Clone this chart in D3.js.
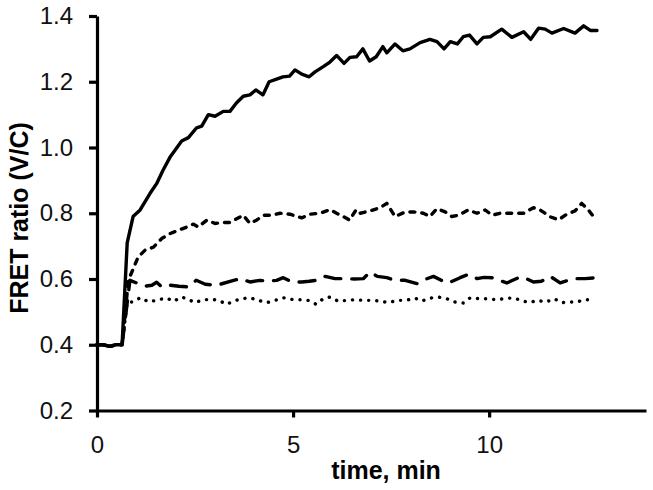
<!DOCTYPE html>
<html>
<head>
<meta charset="utf-8">
<script src="https://cdn.jsdelivr.net/npm/d3@7"></script>
<style>
  body { margin: 0; background: #fff; }
  svg { display: block; font-family: "Liberation Sans", Arial, sans-serif; }
</style>
</head>
<body>
<svg></svg>
<script>
const W = 653, H = 490,
  X_LABEL = "time, min",
  Y_LABEL = "FRET ratio (V/C)",
  xTicks = [0, 5, 10],
  yTicks = [0.2, 0.4, 0.6, 0.8, 1.0, 1.2, 1.4];

// shared baseline before the stimulus, [time, ratio]
const baseline = [[0, 0.40], [0.15, 0.40], [0.33, 0.395], [0.48, 0.40], [0.64, 0.40]];

const solid = [[0.77,0.71],[0.92,0.79],[1.10,0.81],[1.35,0.86],[1.52,0.89],[1.68,0.93],[1.86,0.97],
  [2.16,1.02],[2.33,1.03],[2.54,1.06],[2.67,1.065],[2.84,1.10],[3.01,1.095],[3.22,1.11],[3.39,1.11],
  [3.56,1.136],[3.73,1.156],[3.90,1.16],[4.05,1.175],[4.23,1.16],[4.39,1.20],[4.58,1.208],[4.74,1.215],
  [4.91,1.217],[5.05,1.236],[5.22,1.223],[5.41,1.215],[5.56,1.23],[5.77,1.246],[5.94,1.26],[6.11,1.28],
  [6.30,1.256],[6.45,1.274],[6.62,1.276],[6.78,1.30],[6.95,1.263],[7.12,1.276],[7.29,1.307],[7.39,1.288],
  [7.60,1.315],[7.80,1.294],[7.98,1.30],[8.24,1.319],[8.49,1.329],[8.67,1.322],[8.85,1.30],[9.01,1.322],
  [9.19,1.315],[9.34,1.337],[9.50,1.342],[9.69,1.315],[9.85,1.335],[10.03,1.337],[10.32,1.36],[10.58,1.335],
  [10.88,1.352],[11.06,1.329],[11.26,1.363],[11.43,1.36],[11.60,1.348],[11.90,1.362],[12.19,1.348],
  [12.41,1.37],[12.58,1.356],[12.75,1.356]];

const shortDash = [[0.80,0.596],[1.05,0.667],[1.22,0.687],[1.44,0.697],[1.65,0.723],[1.86,0.738],[2.07,0.748],
  [2.29,0.758],[2.46,0.767],[2.58,0.758],[2.80,0.779],[3.01,0.769],[3.22,0.772],[3.39,0.772],[3.73,0.794],
  [3.90,0.769],[4.07,0.779],[4.24,0.794],[4.46,0.794],[4.67,0.80],[4.92,0.797],[5.22,0.786],[5.43,0.797],
  [5.69,0.80],[5.94,0.811],[6.11,0.80],[6.28,0.79],[6.44,0.779],[6.61,0.811],[6.71,0.80],[6.96,0.807],
  [7.22,0.817],[7.39,0.83],[7.60,0.79],[7.86,0.804],[8.07,0.804],[8.32,0.80],[8.49,0.79],[8.67,0.814],
  [8.88,0.804],[9.05,0.79],[9.22,0.794],[9.47,0.81],[9.69,0.80],[9.90,0.81],[10.07,0.794],[10.28,0.80],
  [10.58,0.80],[10.88,0.80],[11.13,0.817],[11.30,0.81],[11.56,0.789],[11.77,0.78],[11.98,0.797],
  [12.19,0.807],[12.36,0.83],[12.53,0.81],[12.73,0.779]];

const longDash = [[0.84,0.596],[1.22,0.578],[1.40,0.581],[1.52,0.59],[1.65,0.576],[1.86,0.581],[2.09,0.578],
  [2.33,0.576],[2.53,0.596],[2.76,0.584],[3.05,0.581],[3.44,0.594],[3.65,0.601],[3.90,0.591],[4.16,0.596],
  [4.36,0.593],[4.58,0.596],[4.75,0.604],[4.97,0.591],[5.22,0.591],[5.41,0.593],[5.60,0.596],[5.82,0.608],
  [6.07,0.601],[6.33,0.601],[6.56,0.60],[6.79,0.601],[6.96,0.621],[7.15,0.608],[7.39,0.604],[7.60,0.596],
  [7.86,0.596],[8.16,0.586],[8.37,0.599],[8.58,0.608],[8.78,0.596],[8.96,0.588],[9.26,0.604],[9.47,0.614],
  [9.69,0.601],[9.87,0.605],[10.07,0.604],[10.26,0.596],[10.45,0.588],[10.79,0.606],[10.97,0.60],
  [11.13,0.591],[11.33,0.593],[11.56,0.608],[11.81,0.588],[12.15,0.601],[12.45,0.601],[12.75,0.604]];

const dotted = [[0.77,0.53],[0.92,0.53],[1.10,0.543],[1.33,0.53],[1.56,0.537],[1.78,0.542],[1.95,0.532],
  [2.16,0.545],[2.29,0.54],[2.50,0.528],[2.71,0.537],[2.93,0.538],[3.10,0.535],[3.31,0.523],[3.48,0.533],
  [3.69,0.54],[3.90,0.543],[4.12,0.535],[4.33,0.528],[4.54,0.535],[4.75,0.543],[4.97,0.538],[5.18,0.537],
  [5.39,0.535],[5.59,0.523],[5.77,0.54],[5.94,0.545],[6.16,0.532],[6.37,0.535],[6.58,0.537],[6.80,0.535],
  [7.01,0.535],[7.22,0.533],[7.43,0.528],[7.65,0.535],[7.88,0.535],[8.11,0.542],[8.28,0.533],[8.50,0.542],
  [8.71,0.545],[8.92,0.54],[9.13,0.53],[9.34,0.527],[9.52,0.543],[9.75,0.54],[9.96,0.54],[10.18,0.537],
  [10.39,0.54],[10.61,0.543],[10.81,0.535],[11.02,0.528],[11.23,0.535],[11.45,0.53],[11.66,0.54],
  [11.85,0.528],[12.02,0.53],[12.24,0.53],[12.42,0.537],[12.62,0.537]];

const series = [
  { data: dotted, dash: "0.1 8" },
  { data: longDash, dash: "16 11" },
  { data: shortDash, dash: "5 7" },
  { data: solid, dash: null }
];

var svg = d3.select("svg").attr("width", W).attr("height", H);

var x = d3.scaleLinear().domain([0, 14]).range([97, 646]);
var y = d3.scaleLinear().domain([0.2, 1.4]).range([410.5, 16]);

var line = d3.line().x(d => x(d[0])).y(d => y(d[1]));

series.forEach(s => {
  svg.append("path")
    .datum(baseline.concat(s.data))
    .attr("fill", "none")
    .attr("stroke", "#000")
    .attr("stroke-width", 3.4)
    .attr("stroke-linejoin", "round")
    .attr("stroke-linecap", "round")
    .attr("stroke-dasharray", s.dash)
    .attr("d", line);
});

//axes
var xAxis = d3.axisBottom(x).tickValues(xTicks).tickFormat(d3.format("d"))
  .tickSize(7).tickSizeOuter(0).tickPadding(18);
var yAxis = d3.axisLeft(y).tickValues(yTicks).tickFormat(d3.format(".1f"))
  .tickSize(8).tickSizeOuter(0).tickPadding(16);

var gx = svg.append("g").attr("transform", "translate(0," + y(0.2) + ")").call(xAxis);
var gy = svg.append("g").attr("transform", "translate(" + x(0) + ",0)").call(yAxis);

[gx, gy].forEach(g => {
  g.select(".domain").attr("stroke-width", 3.2);
  g.selectAll(".tick line").attr("stroke-width", 3.2);
  g.selectAll(".tick text")
    .attr("font-family", "'Liberation Sans', Arial, sans-serif")
    .attr("font-size", 24)
    .attr("fill", "#111");
});

svg.append("text")
  .attr("x", 386)
  .attr("y", 479)
  .attr("text-anchor", "middle")
  .attr("font-size", 25)
  .attr("font-weight", "bold")
  .text(X_LABEL);

svg.append("text")
  .attr("transform", "translate(28,218) rotate(-90)")
  .attr("text-anchor", "middle")
  .attr("font-size", 25)
  .attr("font-weight", "bold")
  .text(Y_LABEL);
</script>
</body>
</html>
